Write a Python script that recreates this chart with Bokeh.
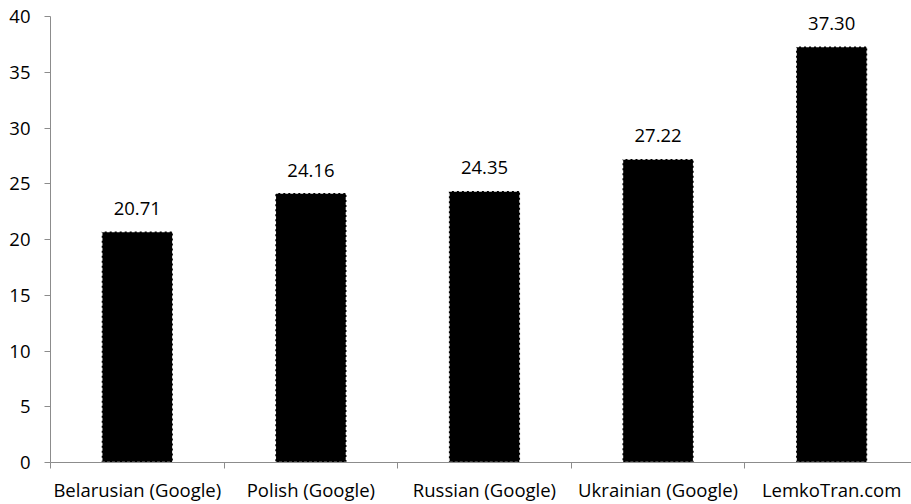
from bokeh.plotting import figure
from bokeh.models import Range1d, FixedTicker, ColumnDataSource
from bokeh.embed import file_html
from bokeh.resources import INLINE
from bokeh.core.properties import value

categories = ["Belarusian (Google)", "Polish (Google)", "Russian (Google)", "Ukrainian (Google)", "LemkoTran.com"]
scores = [20.71, 24.16, 24.35, 27.22, 37.30]
labels = ["20.71", "24.16", "24.35", "27.22", "37.30"]
y_ticks = [0, 5, 10, 15, 20, 25, 30, 35, 40]

FONT = "Open Sans"
FS = "18.5px"
xs = [i + 0.5 for i in range(len(categories))]
src = ColumnDataSource(dict(x=xs, top=scores, lab=labels))

p = figure(width=911, height=504, output_backend="svg", toolbar_location=None,
           x_range=Range1d(0, 4.96), y_range=Range1d(0, 40),
           min_border_left=50, min_border_right=0, min_border_top=16, min_border_bottom=40)
p.outline_line_color = None
p.xgrid.visible = False
p.ygrid.visible = False
p.background_fill_color = "white"
p.border_fill_color = "white"

p.vbar(x="x", top="top", width=0.41, bottom=0, source=src,
       fill_color="black", line_color="white", line_dash="3 2", line_width=1.5)
p.text(x="x", y="top", text="lab", source=src, text_align="center", text_baseline="alphabetic",
       y_offset=-23, text_font=value(FONT), text_font_size=FS, text_color="black")

ax = p.xaxis[0]
ax.ticker = FixedTicker(ticks=xs, minor_ticks=[0, 1, 2, 3, 4, 5])
ax.major_label_overrides = {x: c for x, c in zip(xs, categories)}
ax.major_tick_line_color = None
ax.major_tick_out = 6
ax.minor_tick_out = 6
ax.minor_tick_in = 0
ax.minor_tick_line_color = "#8c8c8c"
ax.axis_line_color = "#8c8c8c"
ax.major_label_text_font = FONT
ax.major_label_text_font_size = FS
ax.major_label_text_color = "black"
ax.major_label_standoff = 8

ay = p.yaxis[0]
ay.ticker = FixedTicker(ticks=y_ticks)
ay.minor_tick_line_color = None
ay.major_tick_out = 6
ay.major_tick_in = 0
ay.major_tick_line_color = "#8c8c8c"
ay.axis_line_color = "#8c8c8c"
ay.major_label_text_font = FONT
ay.major_label_text_font_size = FS
ay.major_label_text_color = "black"
ay.major_label_standoff = 14

open("out.html", "w").write(file_html(p, INLINE))
